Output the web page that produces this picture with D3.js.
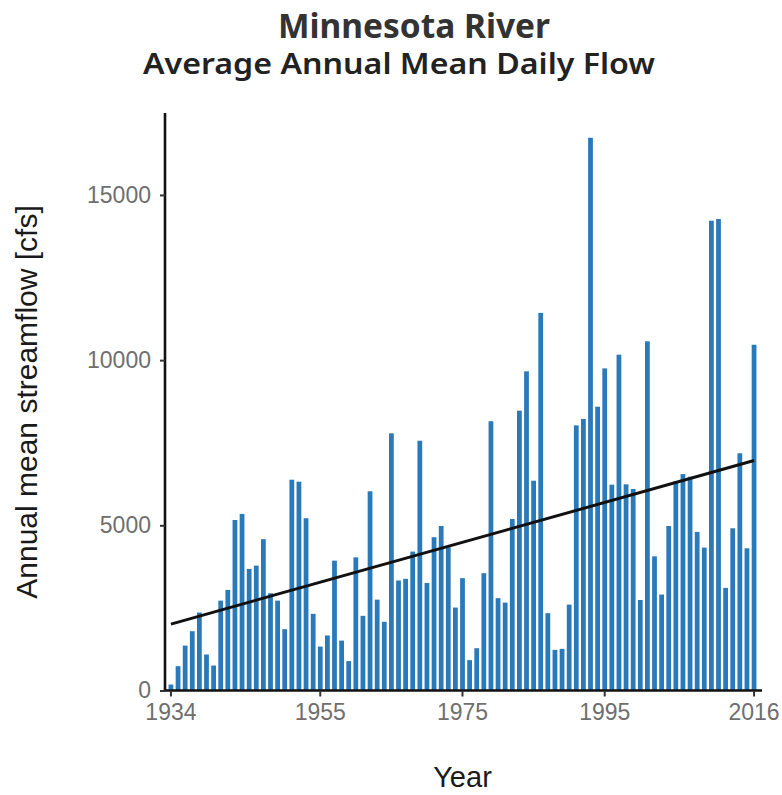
<!DOCTYPE html>
<html>
<head>
<meta charset="utf-8">
<script src="https://cdn.jsdelivr.net/npm/d3@7"></script>
<style>
  body { margin: 0; background: #fff; }
  svg { display: block; }
</style>
</head>
<body>
<svg id="viz" width="782" height="795"></svg>
<script>
// Minnesota River, average annual mean daily flow (cfs)
const years = [
  1934,1935,1936,1937,1938,1939,1940,1941,1942,1943,1944,1945,1946,1947,1948,1949,
  1950,1951,1952,1953,1954,1955,1956,1957,1958,1959,1960,1961,1962,1963,1964,1965,
  1966,1967,1968,1969,1970,1971,1972,1973,1974,1975,1976,1977,1978,1979,1980,1981,
  1982,1983,1984,1985,1986,1987,1988,1989,1990,1991,1992,1993,1994,1995,1996,1997,
  1998,1999,2000,2001,2002,2003,2004,2005,2006,2007,2008,2009,2010,2011,2012,2013,
  2014,2015,2016
];
const flows = [
   180,  735, 1360, 1795, 2360, 1090,  756, 2720, 3045, 5160, 5345, 3680, 3780, 4580, 2945, 2720,
  1855, 6380, 6320, 5215, 2320, 1330, 1665, 3930, 1510,  890, 4030, 2260, 6030, 2750, 2080, 7785,
  3330, 3380, 4205, 7560, 3255, 4640, 4980, 4335, 2510, 3400,  920, 1280, 3550, 8150, 2795, 2660,
  5190, 8470, 9660, 6350,11430, 2340, 1230, 1260, 2600, 8025, 8220,16730, 8590, 9750, 6230,10165,
  6240, 6100, 2740,10570, 4060, 2905, 4980, 6330, 6550, 6470, 4800, 4325,14220,14270, 3105, 4910,
  7180, 4305,10465
];
// linear trend line end points
const trendYears = [1934, 2016];
const trendFlows = [2010, 6960];

const xTicks = [1934, 1955, 1975, 1995, 2016];
const yTicks = [0, 5000, 10000, 15000];

const title = "Minnesota River";
const subtitle = "Average Annual Mean Daily Flow";
const xTitle = "Year";
const yTitle = "Annual mean streamflow [cfs]";

const W = 782, H = 795;
const L = 165, R = 760, T = 113, B = 690.5;
const Y_TOP = 17480;

const svg = d3.select("#viz");

const x = d3.scaleBand()
  .domain(years)
  .range([L, R])
  .paddingInner(0.33)
  .paddingOuter(0.5);

const y = d3.scaleLinear()
  .domain([0, Y_TOP])
  .range([B, T]);

const cx = yr => x(yr) + x.bandwidth() / 2;

// bars
svg.append("g").selectAll("rect")
  .data(years.map((yr, i) => ({ yr, v: flows[i] })))
  .join("rect")
    .attr("x", d => x(d.yr))
    .attr("y", d => y(d.v))
    .attr("width", x.bandwidth())
    .attr("height", d => B - y(d.v))
    .attr("fill", "#2a79b9");

// trend
const trend = trendYears.map((yr, i) => [cx(yr), y(trendFlows[i])]);
svg.append("path")
  .attr("d", d3.line()(trend))
  .attr("stroke", "#111")
  .attr("stroke-width", 3)
  .attr("fill", "none");

// axes
const fontAxis = "'Liberation Sans', Arial, sans-serif";

const gy = svg.append("g")
  .attr("transform", `translate(${L},0)`)
  .call(d3.axisLeft(y).tickValues(yTicks).tickFormat(d3.format("d"))
    .tickSize(5).tickPadding(9).tickSizeOuter(0));
const gx = svg.append("g")
  .attr("transform", `translate(0,${B})`)
  .call(d3.axisBottom(x).tickValues(xTicks).tickSize(6).tickPadding(7).tickSizeOuter(0));

[gx, gy].forEach(g => {
  g.select(".domain").attr("stroke", "#111").attr("stroke-width", 2.6);
  g.selectAll(".tick line").attr("stroke", "#333").attr("stroke-width", 2);
  g.selectAll(".tick text")
    .attr("fill", "#6f6f6f")
    .style("font-family", fontAxis)
    .style("font-size", "23px");
});
// stretch the domain lines across the full panel
gx.select(".domain").attr("d", `M${L},0H${R + 2}`);
gy.select(".domain").attr("d", `M0,${T}V${B}`);

// axis titles
svg.append("text")
  .attr("x", (L + R) / 2).attr("y", 787)
  .attr("text-anchor", "middle")
  .style("font-family", fontAxis).style("font-size", "29px")
  .attr("fill", "#1a1a1a")
  .text(xTitle);

svg.append("text")
  .attr("transform", "translate(37,402) rotate(-90)")
  .attr("text-anchor", "middle")
  .style("font-family", fontAxis).style("font-size", "30px")
  .attr("fill", "#1a1a1a")
  .text(yTitle);

// titles
svg.append("text")
  .attr("x", 414).attr("y", 38)
  .attr("text-anchor", "middle")
  .style("font-family", "'Noto Sans', 'Open Sans', sans-serif")
  .style("font-weight", "bold").style("font-size", "34px")
  .attr("fill", "#333")
  .attr("textLength", 272).attr("lengthAdjust", "spacingAndGlyphs")
  .text(title);

svg.append("text")
  .attr("x", 399).attr("y", 74)
  .attr("text-anchor", "middle")
  .style("font-family", "'Noto Sans', 'Open Sans', sans-serif")
  .style("font-weight", 600).style("font-size", "28px")
  .attr("fill", "#222")
  .attr("textLength", 512).attr("lengthAdjust", "spacingAndGlyphs")
  .text(subtitle);
</script>
</body>
</html>
